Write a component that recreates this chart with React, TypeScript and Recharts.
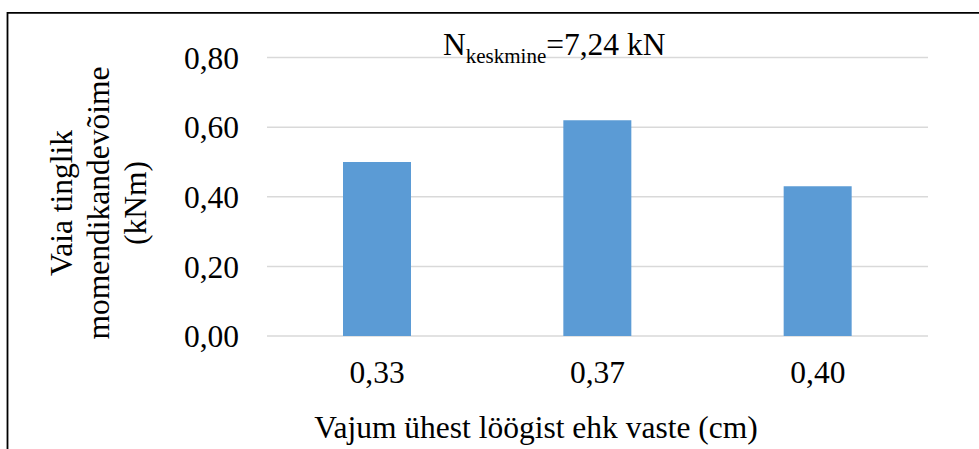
import React from 'react';
import { BarChart, Bar, XAxis, YAxis, CartesianGrid, Customized } from 'recharts';

const settlements = ['0,33', '0,37', '0,40'];
const momentCapacity = [0.5, 0.62, 0.43];
const yTicks = [0, 0.2, 0.4, 0.6, 0.8];

const chartData = settlements.map((s, i) => ({ settlement: s, moment: momentCapacity[i] }));

const FONT = '"Liberation Serif", "Times New Roman", serif';
const SIZE = 31.5;

const fmt = (v: number) => v.toFixed(2).replace('.', ',');

// frame, titles and the average-force note
const Decorations = () => (
  <g fontFamily={FONT} fill="#000">
    <line x1={7.5} y1={12.8} x2={979} y2={12.8} stroke="#000" strokeWidth={1.8} />
    <line x1={7.5} y1={12} x2={7.5} y2={449} stroke="#000" strokeWidth={1.8} />
    <text x={443} y={55} fontSize={SIZE}>
      <tspan>N</tspan>
      <tspan fontSize={21} dy={8}>keskmine</tspan>
      <tspan dy={-8}>=7,24 kN</tspan>
    </text>
    <text x={536} y={438} fontSize={SIZE} textAnchor="middle">
      Vajum ühest löögist ehk vaste (cm)
    </text>
    {['Vaia tinglik', 'momendikandevõime', '(kNm)'].map((line, i) => {
      const x = 72 + i * 37;
      return (
        <text key={line} x={x} y={203} fontSize={SIZE} textAnchor="middle" transform={`rotate(-90, ${x}, 203)`}>
          {line}
        </text>
      );
    })}
  </g>
);

export default function App() {
  return (
    <div style={{ position: 'absolute', left: 0, top: 0, width: 979, height: 449, background: '#fff' }}>
      <BarChart width={979} height={449} data={chartData} margin={{ top: 57.5, right: 51, bottom: 83, left: 0 }}>
        <CartesianGrid vertical={false} stroke="#d9d9d9" strokeWidth={1.5} />
        <XAxis
          dataKey="settlement"
          height={30}
          axisLine={false}
          tickLine={false}
          tickSize={0}
          tickMargin={25}
          tick={{ fill: '#000', fontSize: SIZE, fontFamily: FONT }}
        />
        <YAxis
          width={267}
          domain={[0, 0.8]}
          ticks={yTicks}
          tickFormatter={fmt}
          axisLine={false}
          tickLine={false}
          tickSize={0}
          tickMargin={28}
          tick={{ fill: '#000', fontSize: SIZE, fontFamily: FONT }}
        />
        <Bar dataKey="moment" fill="#5b9bd5" barSize={68} isAnimationActive={false} />
        <Customized component={Decorations} />
      </BarChart>
    </div>
  );
}
